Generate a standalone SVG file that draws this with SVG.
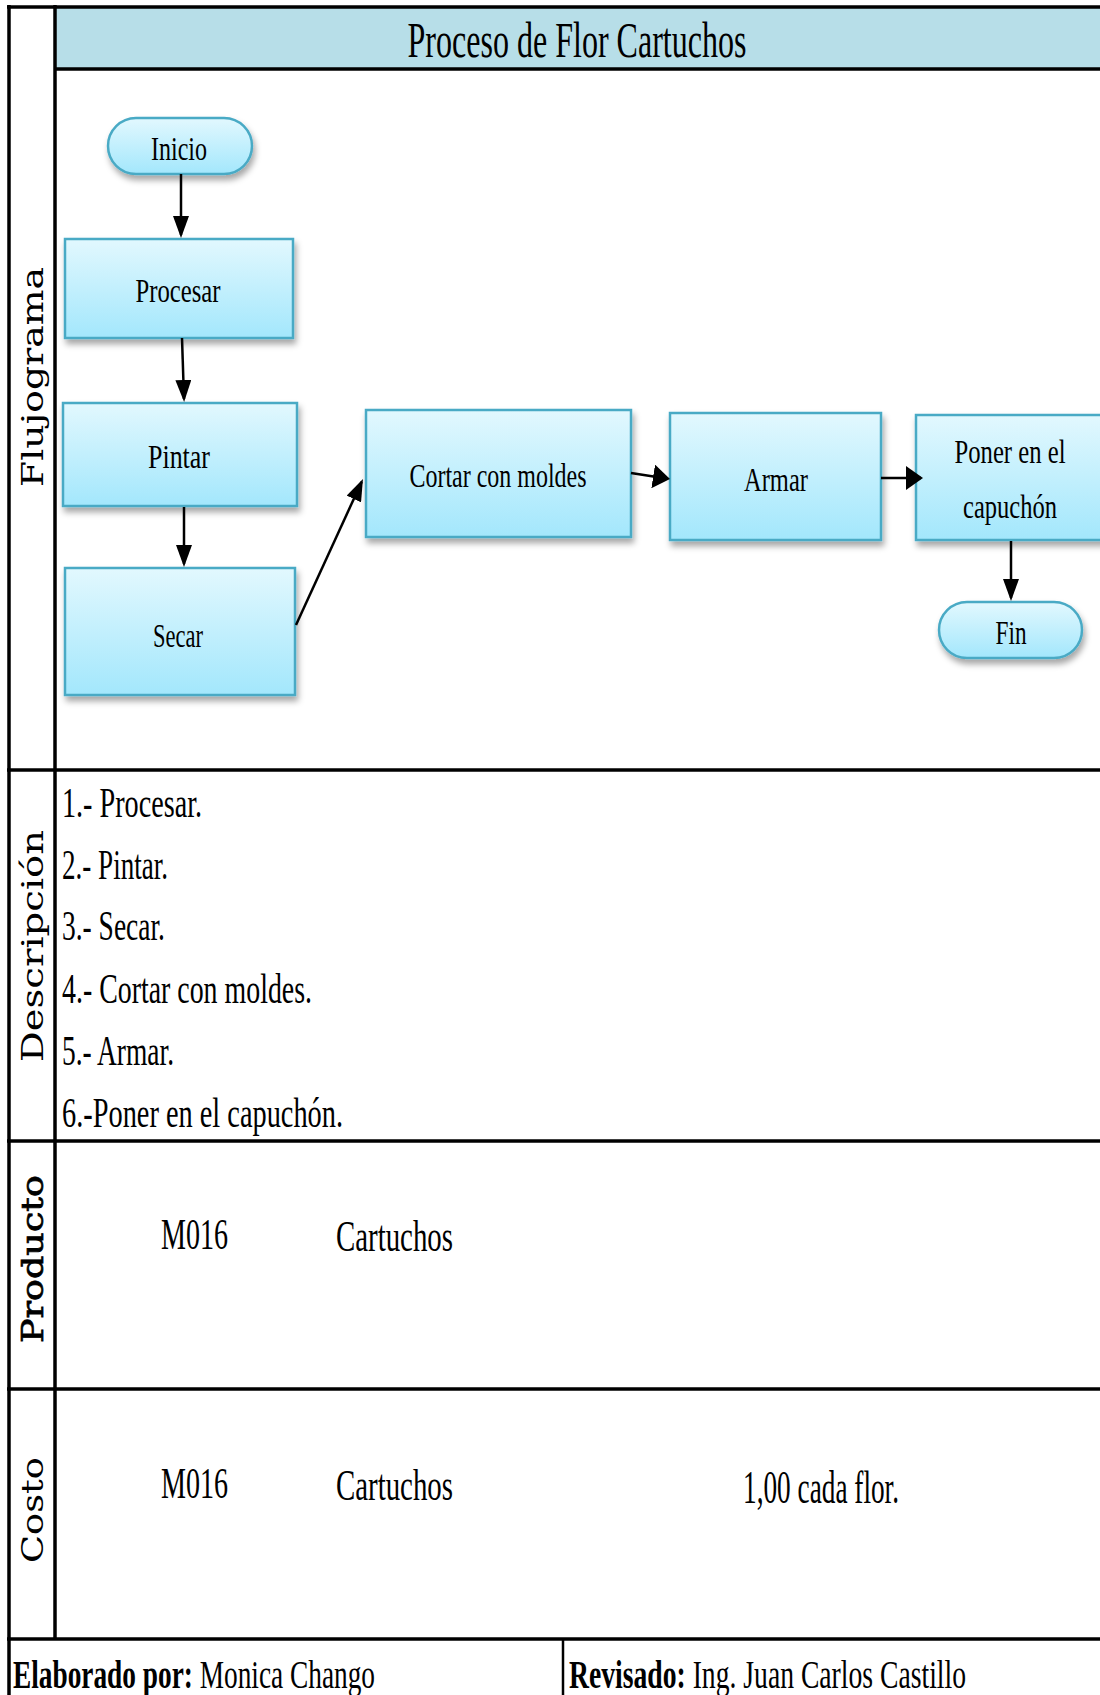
<svg xmlns="http://www.w3.org/2000/svg" width="1100" height="1695" viewBox="0 0 1100 1695">
  <defs>
    <linearGradient id="nodeFill" x1="0" y1="0" x2="0" y2="1">
      <stop offset="0" stop-color="#e2f8fe"/>
      <stop offset="1" stop-color="#a3e7fc"/>
    </linearGradient>
    <filter id="shadow" x="-10%" y="-10%" width="125%" height="140%">
      <feDropShadow dx="2" dy="5" stdDeviation="3" flood-color="#000" flood-opacity="0.35"/>
    </filter>
    <marker id="arrowV" viewBox="0 0 22 16" refX="19" refY="8" markerWidth="22" markerHeight="16" markerUnits="userSpaceOnUse" orient="auto">
      <path d="M0,0 L22,8 L0,16 z" fill="#000"/>
    </marker>
    <marker id="arrowH" viewBox="0 0 17 24" refX="15" refY="12" markerWidth="17" markerHeight="24" markerUnits="userSpaceOnUse" orient="auto">
      <path d="M0,0 L17,12 L0,24 z" fill="#000"/>
    </marker>
  </defs>
  <style>
    .node { fill: url(#nodeFill); stroke: #4aaac5; stroke-width: 2.5; filter: url(#shadow); }
    .ntext { font-family: "Liberation Serif", "Times New Roman", serif; font-size: 34px; fill: #000; text-anchor: middle; }
    .body { font-family: "Liberation Serif", "Times New Roman", serif; fill: #000; }
    .lane { font-family: "DejaVu Serif", "Liberation Serif", serif; font-size: 29px; fill: #000; text-anchor: middle; }
    .rule { stroke: #000; stroke-width: 3.5; fill: none; }
    .conn { stroke: #000; stroke-width: 2.5; fill: none; }
  </style>

  <rect x="0" y="0" width="1100" height="1695" fill="#fff"/>

  <!-- title band -->
  <g id="title">
    <rect x="55" y="7" width="1045" height="62" fill="#b7dee8"/>
    <text class="body" x="577" y="57" font-size="50" text-anchor="middle" textLength="339" lengthAdjust="spacingAndGlyphs">Proceso de Flor Cartuchos</text>
  </g>

  <!-- table rules -->
  <g id="grid">
    <line class="rule" x1="7" y1="7" x2="1100" y2="7"/>
    <line class="rule" x1="55" y1="69" x2="1100" y2="69"/>
    <line class="rule" x1="9" y1="5" x2="9" y2="1695"/>
    <line class="rule" x1="55" y1="5" x2="55" y2="1639"/>
    <line class="rule" x1="7" y1="770" x2="1100" y2="770"/>
    <line class="rule" x1="7" y1="1141" x2="1100" y2="1141"/>
    <line class="rule" x1="7" y1="1389" x2="1100" y2="1389"/>
    <line class="rule" x1="7" y1="1639" x2="1100" y2="1639"/>
    <line x1="563" y1="1639" x2="563" y2="1695" stroke="#000" stroke-width="2.5"/>
  </g>

  <!-- lane headings -->
  <g id="lanes">
    <text class="lane" transform="translate(43,377) rotate(-90)" textLength="220" lengthAdjust="spacingAndGlyphs">Flujograma</text>
    <text class="lane" transform="translate(43,946) rotate(-90)" textLength="232" lengthAdjust="spacingAndGlyphs">Descripción</text>
    <text class="lane" transform="translate(43,1259) rotate(-90)" stroke="#000" stroke-width="0.7" textLength="168" lengthAdjust="spacingAndGlyphs">Producto</text>
    <text class="lane" transform="translate(43,1510) rotate(-90)" textLength="106" lengthAdjust="spacingAndGlyphs">Costo</text>
  </g>

  <!-- flowchart nodes -->
  <g id="inicio">
    <rect class="node" x="108" y="118" width="144" height="56" rx="28" ry="28"/>
    <text class="ntext" x="179" y="160" textLength="56" lengthAdjust="spacingAndGlyphs">Inicio</text>
  </g>
  <g id="procesar">
    <rect class="node" x="65" y="239" width="228" height="99"/>
    <text class="ntext" x="178" y="302" textLength="85" lengthAdjust="spacingAndGlyphs">Procesar</text>
  </g>
  <g id="pintar">
    <rect class="node" x="63" y="403" width="234" height="103"/>
    <text class="ntext" x="179" y="468" textLength="62" lengthAdjust="spacingAndGlyphs">Pintar</text>
  </g>
  <g id="secar">
    <rect class="node" x="65" y="568" width="230" height="127"/>
    <text class="ntext" x="178" y="647" textLength="50" lengthAdjust="spacingAndGlyphs">Secar</text>
  </g>
  <g id="cortar">
    <rect class="node" x="366" y="410" width="265" height="127"/>
    <text class="ntext" x="498" y="487" textLength="177" lengthAdjust="spacingAndGlyphs">Cortar con moldes</text>
  </g>
  <g id="armar">
    <rect class="node" x="670" y="413" width="211" height="127"/>
    <text class="ntext" x="776" y="491" textLength="64" lengthAdjust="spacingAndGlyphs">Armar</text>
  </g>
  <g id="poner">
    <rect class="node" x="916" y="415" width="200" height="125"/>
    <text class="ntext" x="1010" y="463" textLength="111" lengthAdjust="spacingAndGlyphs">Poner en el</text>
    <text class="ntext" x="1010" y="518" textLength="94" lengthAdjust="spacingAndGlyphs">capuchón</text>
  </g>
  <g id="fin">
    <rect class="node" x="939" y="602" width="143" height="56" rx="28" ry="28"/>
    <text class="ntext" x="1011" y="644" textLength="31" lengthAdjust="spacingAndGlyphs">Fin</text>
  </g>

  <!-- connectors -->
  <g id="connectors">
    <line class="conn" x1="181" y1="174" x2="181" y2="235" marker-end="url(#arrowV)"/>
    <line class="conn" x1="182" y1="338" x2="184" y2="399" marker-end="url(#arrowV)"/>
    <line class="conn" x1="184" y1="507" x2="184" y2="564" marker-end="url(#arrowV)"/>
    <line class="conn" x1="296" y1="625" x2="361.7" y2="481.7" marker-end="url(#arrowV)"/>
    <line class="conn" x1="631" y1="473" x2="668" y2="478.7" marker-end="url(#arrowH)"/>
    <line class="conn" x1="881" y1="478" x2="921" y2="478" marker-end="url(#arrowH)"/>
    <line class="conn" x1="1011" y1="541" x2="1011" y2="598" marker-end="url(#arrowV)"/>
  </g>

  <!-- description list -->
  <g id="descripcion" class="body" font-size="42">
    <text x="62" y="817" textLength="140" lengthAdjust="spacingAndGlyphs">1.- Procesar.</text>
    <text x="62" y="879" textLength="106" lengthAdjust="spacingAndGlyphs">2.- Pintar.</text>
    <text x="62" y="940" textLength="103" lengthAdjust="spacingAndGlyphs">3.- Secar.</text>
    <text x="62" y="1003" textLength="250" lengthAdjust="spacingAndGlyphs">4.- Cortar con moldes.</text>
    <text x="62" y="1065" textLength="112" lengthAdjust="spacingAndGlyphs">5.- Armar.</text>
    <text x="62" y="1127" textLength="281" lengthAdjust="spacingAndGlyphs">6.-Poner en el capuchón.</text>
  </g>

  <!-- product row -->
  <g id="producto" class="body" font-size="44">
    <text x="161" y="1249" textLength="67" lengthAdjust="spacingAndGlyphs">M016</text>
    <text x="336" y="1251" textLength="117" lengthAdjust="spacingAndGlyphs">Cartuchos</text>
  </g>

  <!-- cost row -->
  <g id="costo" class="body" font-size="44">
    <text x="161" y="1498" textLength="67" lengthAdjust="spacingAndGlyphs">M016</text>
    <text x="336" y="1500" textLength="117" lengthAdjust="spacingAndGlyphs">Cartuchos</text>
    <text x="743" y="1503" font-size="47" textLength="156" lengthAdjust="spacingAndGlyphs">1,00 cada flor.</text>
  </g>

  <!-- signatures -->
  <g id="firmas" class="body" font-size="41">
    <text x="13" y="1688" textLength="362" lengthAdjust="spacingAndGlyphs"><tspan font-weight="bold">Elaborado por:</tspan> Monica Chango</text>
    <text x="569" y="1688" textLength="397" lengthAdjust="spacingAndGlyphs"><tspan font-weight="bold">Revisado:</tspan> Ing. Juan Carlos Castillo</text>
  </g>
</svg>
